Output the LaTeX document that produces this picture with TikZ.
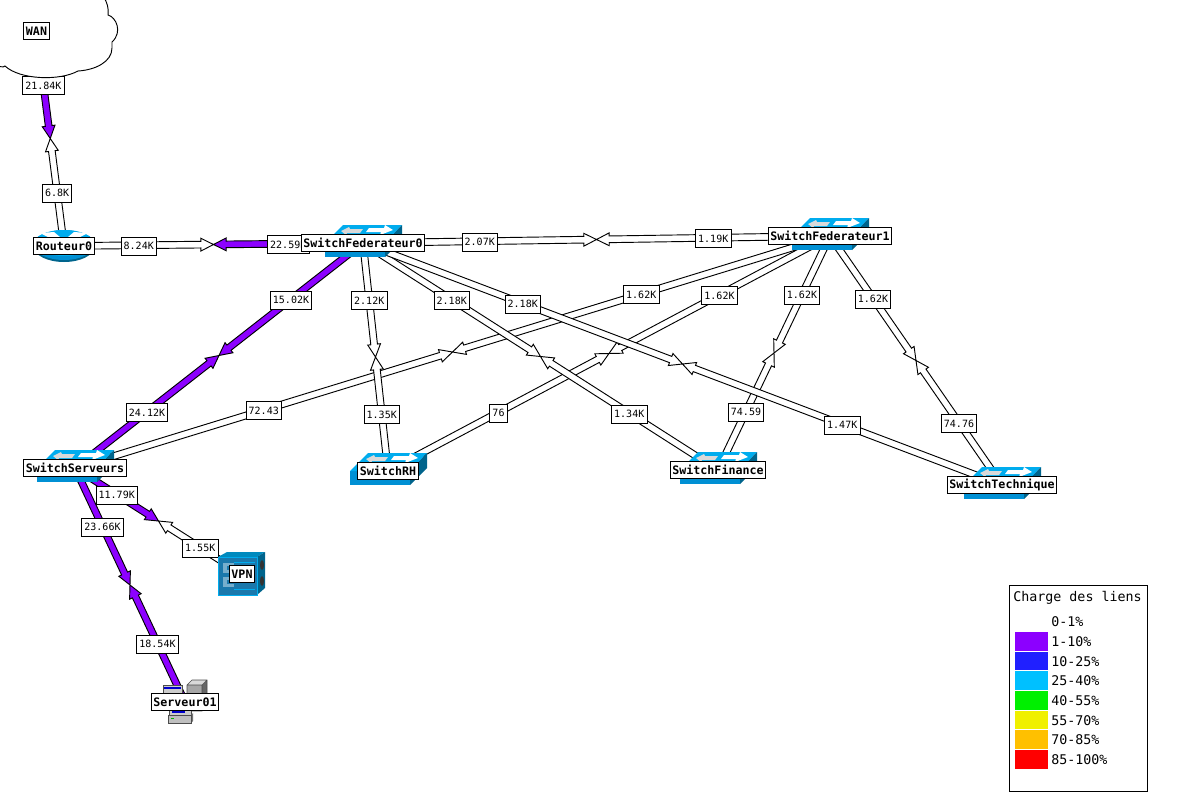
\documentclass[tikz,border=0pt]{standalone}
\usepackage{fontspec}
\setmonofont{DejaVu Sans Mono}
\usetikzlibrary{calc,backgrounds}
\definecolor{charge1}{RGB}{140,0,255}
\definecolor{charge2}{RGB}{32,32,255}
\definecolor{charge3}{RGB}{0,192,255}
\definecolor{charge4}{RGB}{0,240,0}
\definecolor{charge5}{RGB}{240,240,0}
\definecolor{charge6}{RGB}{255,192,0}
\definecolor{charge7}{RGB}{255,0,0}
\definecolor{icontop}{RGB}{0,172,238}
\definecolor{iconfront}{RGB}{0,144,212}
\definecolor{iconside}{RGB}{0,100,140}
\definecolor{vpnfront}{RGB}{26,120,172}
\tikzset{
  nodetitle/.style={draw,fill=white,line width=.7pt,inner sep=1.5pt,minimum height=13pt,font=\ttfamily\bfseries\fontsize{8.75}{9}\selectfont},
  linklabel/.style={draw,fill=white,line width=.7pt,inner sep=2pt,minimum height=13.5pt,yshift=-.6pt,font=\ttfamily\fontsize{7.5}{8}\selectfont},
  legendtext/.style={anchor=west,inner sep=0pt,font=\ttfamily\fontsize{10}{11}\selectfont},
  linkline/.style={line width=.7pt,line join=miter},
  pics/switchicon/.style={code={
    \fill[iconfront] (-38,0) rectangle (22,14);
    \fill[icontop] (-38,0) -- (-20,-18) -- (39,-18) -- (22,0) -- cycle;
    \fill[iconside] (22,0) -- (39,-18) -- (39,-3) -- (22,14) -- cycle;
    \fill[white!85!black] (-22,-12) -- (-14,-16) -- (-13,-14) -- (0,-14) -- (-3,-10) -- (-16,-10) -- (-17,-8) -- cycle;
    \fill[white] (30,-13) -- (22,-18) -- (21,-15) -- (6,-15) -- (3,-11) -- (18,-11) -- (17,-8) -- cycle;
  }},
  pics/routericon/.style={code={
    \fill[iconside] (0,1) ellipse [x radius=30,y radius=15];
    \fill[iconfront] (0,-1) ellipse [x radius=30,y radius=15];
    \fill[icontop] (0,-3) ellipse [x radius=30,y radius=13];
    \fill[white] (-24,-13) -- (-10,-14) -- (-4,-9) -- (-14,-8) -- cycle;
    \fill[white] (24,-13) -- (10,-14) -- (4,-9) -- (14,-8) -- cycle;
  }},
  pics/vpnicon/.style={code={
    \fill[vpnfront] (-24,-17) rectangle (15,21);
    \fill[icontop!80!black] (-24,-17) -- (-15,-22) -- (23,-22) -- (15,-17) -- cycle;
    \fill[iconside] (15,-17) -- (23,-22) -- (23,14) -- (15,21) -- cycle;
    \fill[black!80] (20,-9) ellipse [x radius=2,y radius=5];
    \fill[black!80] (20,7) ellipse [x radius=2,y radius=5];
    \draw[icontop,line width=.7pt] (-24,-17) rectangle (15,21);
    \foreach \y in {-6,8} {
      \fill[vpnfront!60!white] (-19,\y-5) rectangle (-8,\y+5);
      \fill[vpnfront] (-15,\y-2) rectangle (-8,\y+2);
    }
    \draw[icontop,line width=.6pt] (-8,-12) -- (13,-12) (-8,15) -- (13,15);
  }},
  pics/servericon/.style={code={
    \fill[black!60] (17,-17) -- (22,-22) -- (22,5) -- (17,9) -- cycle;
    \fill[black!15] (2,-17) -- (7,-22) -- (22,-22) -- (17,-17) -- cycle;
    \fill[black!35] (2,-17) rectangle (17,9);
    \draw[black!70,line width=.5pt] (2,-17) -- (7,-22) -- (22,-22) -- (22,5) -- (17,9) -- (2,9) -- cycle (2,-17) -- (17,-17) -- (22,-22) (17,-17) -- (17,9);
    \fill[black!20] (-22,-17) rectangle (-3,-5);
    \draw[black!70,line width=.5pt] (-22,-5) -- (-22,-17) -- (-3,-17) -- (-3,-5);
    \fill[blue!80!black] (-21,-15) rectangle (-4,-13);
    \fill[black!20] (-16,5) rectangle (6,13);
    \draw[black!70,line width=.5pt] (-16,5) rectangle (6,13);
    \fill[blue!80!black] (-13,8) rectangle (0,11);
    \fill[black!25] (-17,13) rectangle (6,21);
    \fill[black!55] (6,13) -- (8,11) -- (8,19) -- (6,21) -- cycle;
    \draw[black!70,line width=.5pt] (-17,13) rectangle (6,21);
    \fill[green!70!black] (-14,16) rectangle (-11,17);
  }},
}
% one half of a link, from a node up to the middle of the link
\newcommand{\halflink}[3]{
  \coordinate (tip) at ($(#1)!.5!(#2)$);
  \coordinate (neck) at ($(tip)!9.5pt!(#1)$);
  \filldraw[linkline,fill=#3] ($(#1)!2.5pt!90:(#2)$) -- ($(neck)!2.5pt!90:(tip)$) -- ($(neck)!4.8pt!90:(tip)$)
    -- (tip) -- ($(neck)!4.8pt!-90:(tip)$) -- ($(neck)!2.5pt!-90:(tip)$) -- ($(#1)!2.5pt!-90:(#2)$) -- cycle;
}
\newcommand{\netlink}[6]{
  \halflink{#1}{#2}{#3}
  \halflink{#2}{#1}{#4}
  \node[linklabel] (#1-#2-a) at ($(#1)!.25!(#2)$) {#5};
  \node[linklabel] (#1-#2-b) at ($(#1)!.75!(#2)$) {#6};
}
\begin{document}
\begin{tikzpicture}[x=.75pt,y=-.75pt]
\useasboundingbox (0,0) rectangle (1200,800);
% cloud
\begin{scope}
  \clip (0,0) rectangle (1200,800);
  \filldraw[fill=white,line width=.7pt] (104,-3) .. controls (107,3) and (109,8) .. (108,15)
    .. controls (116,17) and (123,32) .. (112,42) -- (112,48)
    .. controls (112,62) and (95,70) .. (78,71)
    .. controls (60,81) and (20,80) .. (5,66)
    .. controls (3,68) and (0,66) .. (-3,66) -- (-3,-3) -- cycle;
\end{scope}
% devices
\node[nodetitle] (wan) at (36.5,31) {WAN};
\path (64,246) pic {routericon} node[nodetitle] (routeur) {Routeur0};
\path (363,243) pic {switchicon} node[nodetitle] (fed0) {SwitchFederateur0};
\path (830,236) pic {switchicon} node[nodetitle] (fed1) {SwitchFederateur1};
\path (75,468) pic {switchicon} node[nodetitle] (serveurs) {SwitchServeurs};
\path (388,471) pic {switchicon} node[nodetitle] (rh) {SwitchRH};
\path (718,470) pic {switchicon} node[nodetitle] (finance) {SwitchFinance};
\path (1002,485) pic {switchicon} node[nodetitle] (technique) {SwitchTechnique};
\path (242,574) pic {vpnicon} node[nodetitle] (vpn) {VPN};
\path (185,702) pic {servericon} node[nodetitle] (serveur) {Serveur01};
% links
\begin{scope}[on background layer]
  \netlink{wan}{routeur}{charge1}{white}{21.84K}{6.8K}
  \netlink{routeur}{fed0}{white}{charge1}{8.24K}{22.59K}
  \netlink{fed0}{serveurs}{charge1}{charge1}{15.02K}{24.12K}
  \netlink{serveurs}{vpn}{charge1}{white}{11.79K}{1.55K}
  \netlink{serveurs}{serveur}{charge1}{charge1}{23.66K}{18.54K}
  \netlink{fed1}{serveurs}{white}{white}{1.62K}{72.43}
  \netlink{fed1}{rh}{white}{white}{1.62K}{76}
  \netlink{fed0}{rh}{white}{white}{2.12K}{1.35K}
  \netlink{fed0}{finance}{white}{white}{2.18K}{1.34K}
  \netlink{fed1}{finance}{white}{white}{1.62K}{74.59}
  \netlink{fed1}{technique}{white}{white}{1.62K}{74.76}
  \netlink{fed0}{technique}{white}{white}{2.18K}{1.47K}
  \netlink{fed0}{fed1}{white}{white}{2.07K}{1.19K}
\end{scope}
% legend
\draw[line width=.7pt] (1009,585.5) rectangle (1147,791);
\node[legendtext] (legendtitle) at (1013,598) {Charge des liens};
\node[legendtext] (legend0) at (1051,622) {0-1\%};
\foreach \t [count=\i] in {1-10,10-25,25-40,40-55,55-70,70-85,85-100} {
  \fill[charge\i] (1015,612.5+19.65*\i) rectangle (1048,631+19.65*\i);
  \node[legendtext] (legend\i) at (1051,622+19.65*\i) {\t\%};
}
\end{tikzpicture}
\end{document}
